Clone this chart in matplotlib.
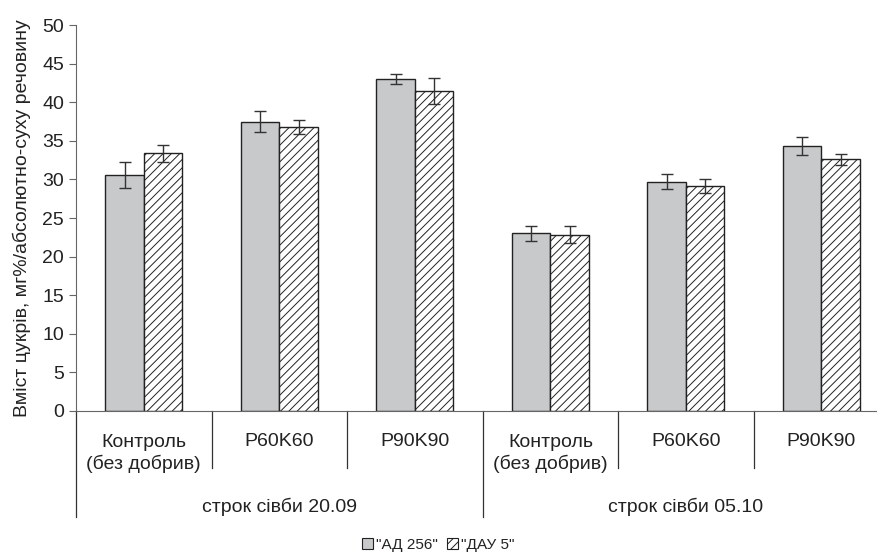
import matplotlib.pyplot as plt
import matplotlib.patches as mpatches
import numpy as np

plt.rcParams['font.family'] = ['Liberation Sans', 'DejaVu Sans']
plt.rcParams['hatch.linewidth'] = 0.7
plt.rcParams['hatch.color'] = '#7a7a7a'

# дані
categories = ['Контроль\n(без добрив)', 'P60K60', 'P90K90',
              'Контроль\n(без добрив)', 'P60K60', 'P90K90']
groups = ['строк сівби 20.09', 'строк сівби 05.10']
ad256 = [30.6, 37.5, 43.0, 23.0, 29.7, 34.3]
ad256_err = [1.7, 1.3, 0.6, 1.0, 1.0, 1.2]
dau5 = [33.4, 36.8, 41.5, 22.8, 29.2, 32.6]
dau5_err = [1.1, 0.9, 1.7, 1.1, 0.9, 0.7]
series_names = ['"АД 256"', '"ДАУ 5"']

fs = 14

fig = plt.figure(figsize=(8.77, 5.56), dpi=100)
ax = fig.add_axes([0.0867, 0.2608, 0.9133, 0.6942])

x = np.arange(len(categories))
w = 0.284
ax.bar(x - w/2, ad256, w, color='#c8c9cb', edgecolor='#222222', linewidth=1.0,
       yerr=ad256_err, error_kw=dict(ecolor='#333333', elinewidth=1.0, capsize=4, capthick=1.0))
ax.bar(x + w/2, dau5, w, color='white', edgecolor='#222222', linewidth=1.0, hatch='////',
       yerr=dau5_err, error_kw=dict(ecolor='#333333', elinewidth=1.0, capsize=4, capthick=1.0))

ax.set_ylim(0, 50)
ax.set_yticks(np.arange(0, 51, 5))
ax.set_xlim(-0.5, 5.41)
ax.set_xticks([])
ax.tick_params(axis='y', labelsize=fs, direction='out', length=5, color='#666666',
               labelcolor='#222222')
ax.spines['top'].set_visible(False)
ax.spines['right'].set_visible(False)
ax.spines['left'].set_color('#666666')
ax.spines['bottom'].set_color('#666666')
ax.set_ylabel('Вміст цукрів, мг%/абсолютно-суху речовину', fontsize=fs, labelpad=8,
              color='#222222')

# двоярусні підписи осі x
tr = ax.get_xaxis_transform()
for i, lab in enumerate(categories):
    ypos = -0.110 if '\n' in lab else -0.080
    ax.text(x[i], ypos, lab, transform=tr, ha='center', va='center', fontsize=fs,
            linespacing=1.27, color='#222222')
for b in [0.5, 1.5, 3.5, 4.5]:
    ax.plot([b, b], [0, -0.148], transform=tr, color='#333333', lw=0.9, clip_on=False)
for b in [-0.5, 2.5]:
    ax.plot([b, b], [0, -0.275], transform=tr, color='#333333', lw=0.9, clip_on=False)
for gi, g in enumerate(groups):
    ax.text(gi * 3 + 1, -0.248, g, transform=tr, ha='center', va='center', fontsize=fs,
            color='#222222')

handles = [mpatches.Patch(facecolor='#c8c9cb', edgecolor='#222222', lw=0.8, label=series_names[0]),
           mpatches.Patch(facecolor='white', edgecolor='#222222', lw=0.8, hatch='////',
                          label=series_names[1])]
fig.legend(handles=handles, loc='center', bbox_to_anchor=(0.5, 0.02), ncol=2, frameon=False,
           fontsize=11, handlelength=0.7, handleheight=0.7, handletextpad=0.2, columnspacing=0.6,
           labelcolor='#222222')

fig.savefig('out.png', dpi=100)
